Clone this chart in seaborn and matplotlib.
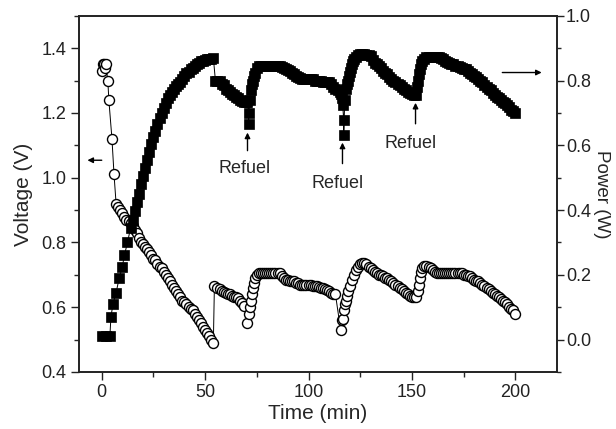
import matplotlib
matplotlib.use('Agg')
import matplotlib.pyplot as plt
import seaborn as sns
import pandas as pd
from matplotlib.ticker import MultipleLocator, FormatStrFormatter

# voltage (open circles, left axis), one list pair per discharge run
volt_t1 = [0, 0.5, 1, 1.5, 2, 3, 3.5, 5, 6, 7, 8, 9, 10, 11, 12, 13, 14, 15, 16, 17,
           18, 19, 20, 21, 22, 23, 24, 25, 26, 27, 28, 29, 30, 31, 32, 33, 34, 35, 36, 37,
           38, 39, 40, 41, 42, 43, 44, 45, 46, 47, 48, 49, 50, 51, 52, 53, 54]
volt_v1 = [1.33, 1.35, 1.35, 1.34, 1.35, 1.30, 1.24, 1.12, 1.01, 0.92, 0.91, 0.90, 0.89, 0.88,
           0.87, 0.865, 0.86, 0.85, 0.84, 0.83, 0.815, 0.80, 0.795, 0.785, 0.78, 0.77, 0.76,
           0.75, 0.745, 0.735, 0.725, 0.72, 0.71, 0.70, 0.69, 0.68, 0.67, 0.66, 0.65, 0.64,
           0.63, 0.62, 0.615, 0.61, 0.60, 0.595, 0.59, 0.58, 0.57, 0.56, 0.55, 0.54, 0.53,
           0.52, 0.51, 0.50, 0.49]
volt_t2 = [54.5, 56, 57, 58, 59, 60, 61, 62, 63, 64, 65, 66, 67, 68, 69,
           70.5, 71, 71.5, 72, 72.5, 73, 73.5, 74, 75, 76, 77, 78, 79, 80, 81, 82, 83, 84, 85, 86,
           87, 88, 89, 90, 91, 92, 93, 94, 95, 96, 97, 98, 99, 100, 101, 102, 103, 104, 105,
           106, 107, 108, 109, 110, 111, 112, 113]
volt_v2 = [0.664, 0.66, 0.655, 0.65, 0.648, 0.645, 0.64, 0.64, 0.635, 0.632, 0.63, 0.628,
           0.62, 0.612, 0.605,
           0.55, 0.58, 0.60, 0.62, 0.64, 0.66, 0.675, 0.69, 0.70, 0.705, 0.706, 0.706, 0.706,
           0.706, 0.706, 0.706, 0.706, 0.706, 0.706, 0.706,
           0.695, 0.69, 0.685, 0.685, 0.68, 0.68, 0.68, 0.675, 0.675, 0.67, 0.67, 0.67, 0.67,
           0.67, 0.668, 0.667, 0.665, 0.665, 0.662, 0.66, 0.658, 0.655, 0.652, 0.65, 0.645,
           0.64, 0.64]
volt_t3 = [115.5, 116, 116.5, 117, 117.5, 118, 118.5, 119, 120, 121, 122, 123, 124, 125, 126,
           127, 128, 129, 130, 131, 132, 133, 134, 135, 136, 137, 138, 139, 140, 141, 142, 143,
           144, 145, 146, 147, 148, 149, 150, 151, 152]
volt_v3 = [0.53, 0.56, 0.565, 0.59, 0.61, 0.62, 0.635, 0.65, 0.665, 0.685, 0.70, 0.715, 0.725,
           0.735, 0.738, 0.738, 0.735, 0.725, 0.72, 0.715, 0.71, 0.705, 0.70, 0.70, 0.695,
           0.69, 0.69, 0.685, 0.68, 0.675, 0.67, 0.665, 0.66, 0.655, 0.65, 0.645, 0.64, 0.635,
           0.633, 0.63, 0.63]
volt_t4 = [153, 153.5, 154, 154.5, 155, 156, 157, 158, 159, 160, 161, 162, 163, 164, 165, 166,
           167, 168, 169, 170, 171, 172, 173, 174, 175, 176, 177, 178, 179, 180, 181, 182, 183,
           184, 185, 186, 187, 188, 189, 190, 191, 192, 193, 194, 195, 196, 197, 198, 199, 200]
volt_v4 = [0.65, 0.67, 0.69, 0.71, 0.72, 0.726, 0.726, 0.724, 0.72, 0.715, 0.71, 0.706, 0.706,
           0.706, 0.706, 0.706, 0.706, 0.706, 0.706, 0.706, 0.706, 0.706, 0.706, 0.705, 0.70,
           0.70, 0.695, 0.695, 0.69, 0.685, 0.68, 0.68, 0.675, 0.67, 0.665, 0.66, 0.655, 0.65,
           0.645, 0.64, 0.635, 0.63, 0.625, 0.62, 0.615, 0.61, 0.60, 0.595, 0.59, 0.58]

# power (filled squares, right axis)
power_t1 = [0, 2, 4, 4.5, 5.5, 7, 8.5, 10, 11, 12.5, 14, 15, 16, 17, 18, 19, 20, 21, 22, 23,
            24, 25, 26, 27, 28, 29, 30, 31, 32, 33, 34, 35, 36, 37, 38, 39, 40, 41, 42, 43,
            44, 45, 46, 47, 48, 49, 50, 51, 52, 53, 54]
power_w1 = [0.01, 0.01, 0.01, 0.07, 0.11, 0.145, 0.19, 0.225, 0.26, 0.30, 0.345, 0.37, 0.397,
            0.425, 0.45, 0.48, 0.505, 0.53, 0.555, 0.58, 0.605, 0.625, 0.645, 0.665, 0.685,
            0.70, 0.715, 0.73, 0.745, 0.755, 0.765, 0.775, 0.782, 0.79, 0.797, 0.805, 0.815,
            0.822, 0.828, 0.835, 0.84, 0.846, 0.85, 0.855, 0.86, 0.862, 0.865, 0.866, 0.867,
            0.868, 0.87]
power_t2 = [55, 56, 57, 58, 59, 60, 61, 62, 63, 64, 65, 66, 67, 68, 69, 70, 70.5, 71, 71,
            71.5, 72, 72.5, 73, 73.5, 74, 75, 76, 77, 78, 79, 80, 81, 82, 83, 84, 85, 86, 87,
            88, 89, 90, 91, 92, 93, 94, 95, 96, 97, 98, 99, 100, 101, 102, 103, 104, 105, 106,
            107, 108, 109, 110, 111, 112, 113, 114, 115, 115.5, 116, 116.5, 117, 117]
power_w2 = [0.80, 0.80, 0.80, 0.79, 0.785, 0.775, 0.77, 0.765, 0.76, 0.755, 0.75, 0.745, 0.74,
            0.737, 0.735, 0.735, 0.735, 0.70, 0.665,
            0.74, 0.77, 0.79, 0.80, 0.815, 0.825, 0.84, 0.846, 0.846, 0.846, 0.846, 0.846,
            0.846, 0.846, 0.846, 0.846, 0.846, 0.846, 0.842, 0.84, 0.835, 0.832, 0.83, 0.825,
            0.82, 0.815, 0.81, 0.808, 0.806, 0.806, 0.806, 0.806, 0.806, 0.805, 0.80, 0.80,
            0.80, 0.798, 0.797, 0.797, 0.797, 0.797, 0.79, 0.78, 0.775, 0.77, 0.765, 0.76,
            0.745, 0.725, 0.677, 0.631]
power_t3 = [117.5, 118, 118.5, 119, 119.5, 120, 120.5, 121, 121.5, 122, 123, 124, 125, 126,
            127, 128, 129, 130, 131, 132, 133, 134, 135, 136, 137, 138, 139, 140, 141, 142,
            143, 144, 145, 146, 147, 148, 149, 150, 151, 152]
power_w3 = [0.74, 0.775, 0.79, 0.80, 0.815, 0.828, 0.84, 0.85, 0.86, 0.868, 0.874, 0.878,
            0.881, 0.883, 0.883, 0.88, 0.878, 0.875, 0.865, 0.855, 0.85, 0.845, 0.838, 0.83,
            0.825, 0.82, 0.812, 0.806, 0.80, 0.795, 0.79, 0.785, 0.78, 0.775, 0.77, 0.765,
            0.762, 0.76, 0.757, 0.755]
power_t4 = [152.5, 153, 153.5, 154, 154.5, 155, 156, 157, 158, 159, 160, 161, 162, 163, 164,
            165, 166, 167, 168, 169, 170, 171, 172, 173, 174, 175, 176, 177, 178, 179, 180,
            181, 182, 183, 184, 185, 186, 187, 188, 189, 190, 191, 192, 193, 194, 195, 196,
            197, 198, 199, 200]
power_w4 = [0.78, 0.80, 0.82, 0.837, 0.85, 0.86, 0.868, 0.872, 0.874, 0.874, 0.874, 0.874,
            0.874, 0.874, 0.87, 0.868, 0.862, 0.858, 0.855, 0.852, 0.85, 0.846, 0.845, 0.842,
            0.84, 0.837, 0.835, 0.83, 0.825, 0.82, 0.815, 0.81, 0.805, 0.80, 0.795, 0.787,
            0.78, 0.775, 0.77, 0.762, 0.755, 0.75, 0.745, 0.74, 0.735, 0.73, 0.725, 0.718,
            0.71, 0.705, 0.70]

# annotations: (label, text x, text y, arrow x, arrow tail y, arrow head y) on power axis
refuel_marks = [("Refuel", 69, 0.53, 70.5, 0.575, 0.648),
                ("Refuel", 114, 0.483, 116.4, 0.535, 0.617),
                ("Refuel", 149.3, 0.606, 151.7, 0.658, 0.74)]

sns.set_style('ticks')
plt.rcParams['font.family'] = ['Liberation Sans', 'DejaVu Sans']

df_v = pd.DataFrame({'t': volt_t1 + volt_t2 + volt_t3 + volt_t4,
                     'v': volt_v1 + volt_v2 + volt_v3 + volt_v4})
df_p = pd.DataFrame({'t': power_t1 + power_t2 + power_t3 + power_t4,
                     'p': power_w1 + power_w2 + power_w3 + power_w4})

fig, ax = plt.subplots(figsize=(6.16, 4.29), dpi=100)
fig.subplots_adjust(left=0.128, right=0.904, bottom=0.133, top=0.963)
ax2 = ax.twinx()

sns.lineplot(data=df_v, x='t', y='v', ax=ax, estimator=None, sort=False,
             color='k', lw=0.7, marker='o', markersize=7.2,
             markerfacecolor='white', markeredgecolor='k', markeredgewidth=1.0)
sns.lineplot(data=df_p, x='t', y='p', ax=ax2, estimator=None, sort=False,
             color='k', lw=0.7, marker='s', markersize=7.0,
             markerfacecolor='k', markeredgecolor='k', markeredgewidth=0.5)

ax.set_xlim(-11, 220)
ax.set_ylim(0.4, 1.5)
ax2.set_ylim(-0.1, 1.0)

ax.xaxis.set_major_locator(MultipleLocator(50))
ax.xaxis.set_minor_locator(MultipleLocator(25))
ax.yaxis.set_minor_locator(MultipleLocator(0.1))
ax2.yaxis.set_minor_locator(MultipleLocator(0.1))
ax.set_yticks([0.4, 0.6, 0.8, 1.0, 1.2, 1.4])
ax2.set_yticks([0.0, 0.2, 0.4, 0.6, 0.8, 1.0])
ax.yaxis.set_major_formatter(FormatStrFormatter('%.1f'))
ax2.yaxis.set_major_formatter(FormatStrFormatter('%.1f'))

for a in (ax, ax2):
    a.tick_params(which='major', direction='out', length=6, width=1, labelsize=13,
                  pad=3, colors='#222222')
    a.tick_params(which='minor', direction='out', length=3.5, width=1)
    for s in a.spines.values():
        s.set_visible(True)
        s.set_linewidth(1.2)
        s.set_color('#222222')
ax2.tick_params(which='major', length=5, pad=1.5)
ax2.tick_params(which='minor', length=3)

ax.set_xlabel('Time (min)', fontsize=15, labelpad=2)
ax.set_ylabel('Voltage (V)', fontsize=15, labelpad=6)
ax2.set_ylabel('Power (W)', fontsize=13.5, rotation=270, labelpad=14)

for label, tx, ty, axx, y0, y1 in refuel_marks:
    ax2.text(tx, ty, label, fontsize=13, ha='center', va='center')
    ax2.annotate('', xy=(axx, y1), xytext=(axx, y0),
                 arrowprops=dict(arrowstyle='-|>', color='k', lw=1, mutation_scale=8))

# pointers telling which axis each curve belongs to
ax.annotate('', xy=(-8.2, 1.054), xytext=(1.4, 1.054),
            arrowprops=dict(arrowstyle='-|>', color='k', lw=1, mutation_scale=8))
ax2.annotate('', xy=(214, 0.825), xytext=(192.3, 0.825),
             arrowprops=dict(arrowstyle='-|>', color='k', lw=1, mutation_scale=8))

fig.savefig('out.png', dpi=100)
